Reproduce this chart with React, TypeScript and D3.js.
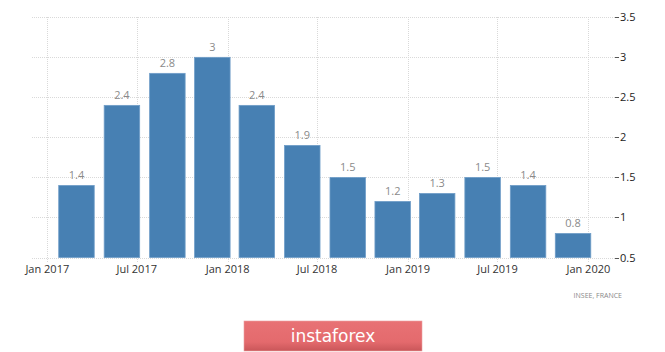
import { useEffect, useRef } from "react";
import * as d3 from "d3";

// quarterly values (France), bars dated at the last month of each quarter
const barDates = [
  "2017-03-01", "2017-06-01", "2017-09-01", "2017-12-01",
  "2018-03-01", "2018-06-01", "2018-09-01", "2018-12-01",
  "2019-03-01", "2019-06-01", "2019-09-01", "2019-12-01",
];
const barValues = [1.4, 2.4, 2.8, 3, 2.4, 1.9, 1.5, 1.2, 1.3, 1.5, 1.4, 0.8];
const barLabels = ["1.4", "2.4", "2.8", "3", "2.4", "1.9", "1.5", "1.2", "1.3", "1.5", "1.4", "0.8"];

const xTickDates = ["2017-01-01", "2017-07-01", "2018-01-01", "2018-07-01", "2019-01-01", "2019-07-01", "2020-01-01"];
const xTickLabels = ["Jan 2017", "Jul 2017", "Jan 2018", "Jul 2018", "Jan 2019", "Jul 2019", "Jan 2020"];
const yTicks = [0.5, 1, 1.5, 2, 2.5, 3, 3.5];
const yTickLabels = ["0.5", "1", "1.5", "2", "2.5", "3", "3.5"];

const App = () => {
  const ref = useRef<SVGSVGElement | null>(null);

  useEffect(() => {
    const svg = d3.select(ref.current);
    svg.selectAll("*").remove();

    const parse = d3.utcParse("%Y-%m-%d");
    const font = "'Open Sans', 'DejaVu Sans', sans-serif";

    const x = d3.scaleUtc()
      .domain([parse("2016-12-01")!, parse("2020-03-01")!])
      .range([32, 618]);
    const y = d3.scaleLinear().domain([0.5, 3.5]).range([257.5, 17.3]);

    const barWidth = 35.5;

    // Horizontal grid
    svg.append("g")
      .selectAll("line")
      .data(yTicks)
      .enter()
      .append("line")
      .attr("x1", 32)
      .attr("x2", 615)
      .attr("y1", d => Math.round(y(d)) + 0.5)
      .attr("y2", d => Math.round(y(d)) + 0.5)
      .attr("stroke", "#d9d9d9")
      .attr("stroke-dasharray", "1,1");

    // Vertical grid
    svg.append("g")
      .selectAll("line")
      .data(xTickDates)
      .enter()
      .append("line")
      .attr("x1", d => Math.round(x(parse(d)!)) + 0.5)
      .attr("x2", d => Math.round(x(parse(d)!)) + 0.5)
      .attr("y1", 17)
      .attr("y2", 262)
      .attr("stroke", "#d9d9d9")
      .attr("stroke-dasharray", "1,1");

    // Bars
    svg.append("g")
      .selectAll("rect")
      .data(barValues)
      .enter()
      .append("rect")
      .attr("x", (d, i) => x(parse(barDates[i])!) - barWidth / 2)
      .attr("y", d => y(d))
      .attr("width", barWidth)
      .attr("height", d => y(0.5) - y(d))
      .attr("fill", "#4780b3")
      .attr("stroke", "#6f9dc8")
      .attr("stroke-width", 0.8);

    // Value labels
    svg.append("g")
      .selectAll("text")
      .data(barValues)
      .enter()
      .append("text")
      .attr("x", (d, i) => x(parse(barDates[i])!))
      .attr("y", d => y(d) - 6)
      .attr("text-anchor", "middle")
      .attr("fill", "#8a8a8a")
      .attr("font-family", font)
      .attr("font-size", "11px")
      .text((d, i) => barLabels[i]);

    // X axis labels
    svg.append("g")
      .selectAll("text")
      .data(xTickDates)
      .enter()
      .append("text")
      .attr("x", d => x(parse(d)!))
      .attr("y", 273)
      .attr("text-anchor", "middle")
      .attr("fill", "#333")
      .attr("font-family", font)
      .attr("font-size", "11px")
      .text((d, i) => xTickLabels[i]);

    // Y axis ticks and labels on the right
    svg.append("g")
      .selectAll("line")
      .data(yTicks)
      .enter()
      .append("line")
      .attr("x1", 615)
      .attr("x2", 619)
      .attr("y1", d => Math.round(y(d)) + 0.5)
      .attr("y2", d => Math.round(y(d)) + 0.5)
      .attr("stroke", "#555");

    svg.append("g")
      .selectAll("text")
      .data(yTicks)
      .enter()
      .append("text")
      .attr("x", 620)
      .attr("y", d => y(d) + 4)
      .attr("fill", "#222")
      .attr("font-family", font)
      .attr("font-size", "11px")
      .text((d, i) => yTickLabels[i]);

    // Source
    svg.append("text")
      .attr("x", 622)
      .attr("y", 298)
      .attr("text-anchor", "end")
      .attr("fill", "#888")
      .attr("font-family", font)
      .attr("font-size", "7px")
      .text("INSEE, FRANCE");

    // Instaforex badge
    const grad = svg.append("defs")
      .append("linearGradient")
      .attr("id", "badge")
      .attr("x1", 0).attr("x2", 0).attr("y1", 0).attr("y2", 1);
    grad.append("stop").attr("offset", "0%").attr("stop-color", "#e87275");
    grad.append("stop").attr("offset", "70%").attr("stop-color", "#e46a6d");
    grad.append("stop").attr("offset", "100%").attr("stop-color", "#c95659");

    svg.append("rect")
      .attr("x", 244)
      .attr("y", 321)
      .attr("width", 178)
      .attr("height", 30)
      .attr("fill", "url(#badge)")
      .attr("stroke", "#eaa0a2")
      .attr("stroke-width", 0.6);

    svg.append("text")
      .attr("x", 333)
      .attr("y", 342)
      .attr("text-anchor", "middle")
      .attr("fill", "#ffffff")
      .attr("font-family", "'DejaVu Sans', sans-serif")
      .attr("font-size", "17px")
      .text("instaforex");
  }, []);

  return (
    <svg
      ref={ref}
      width={665}
      height={352}
      style={{ position: "absolute", left: 0, top: 0, background: "#fff" }}
    />
  );
};

export default App;
